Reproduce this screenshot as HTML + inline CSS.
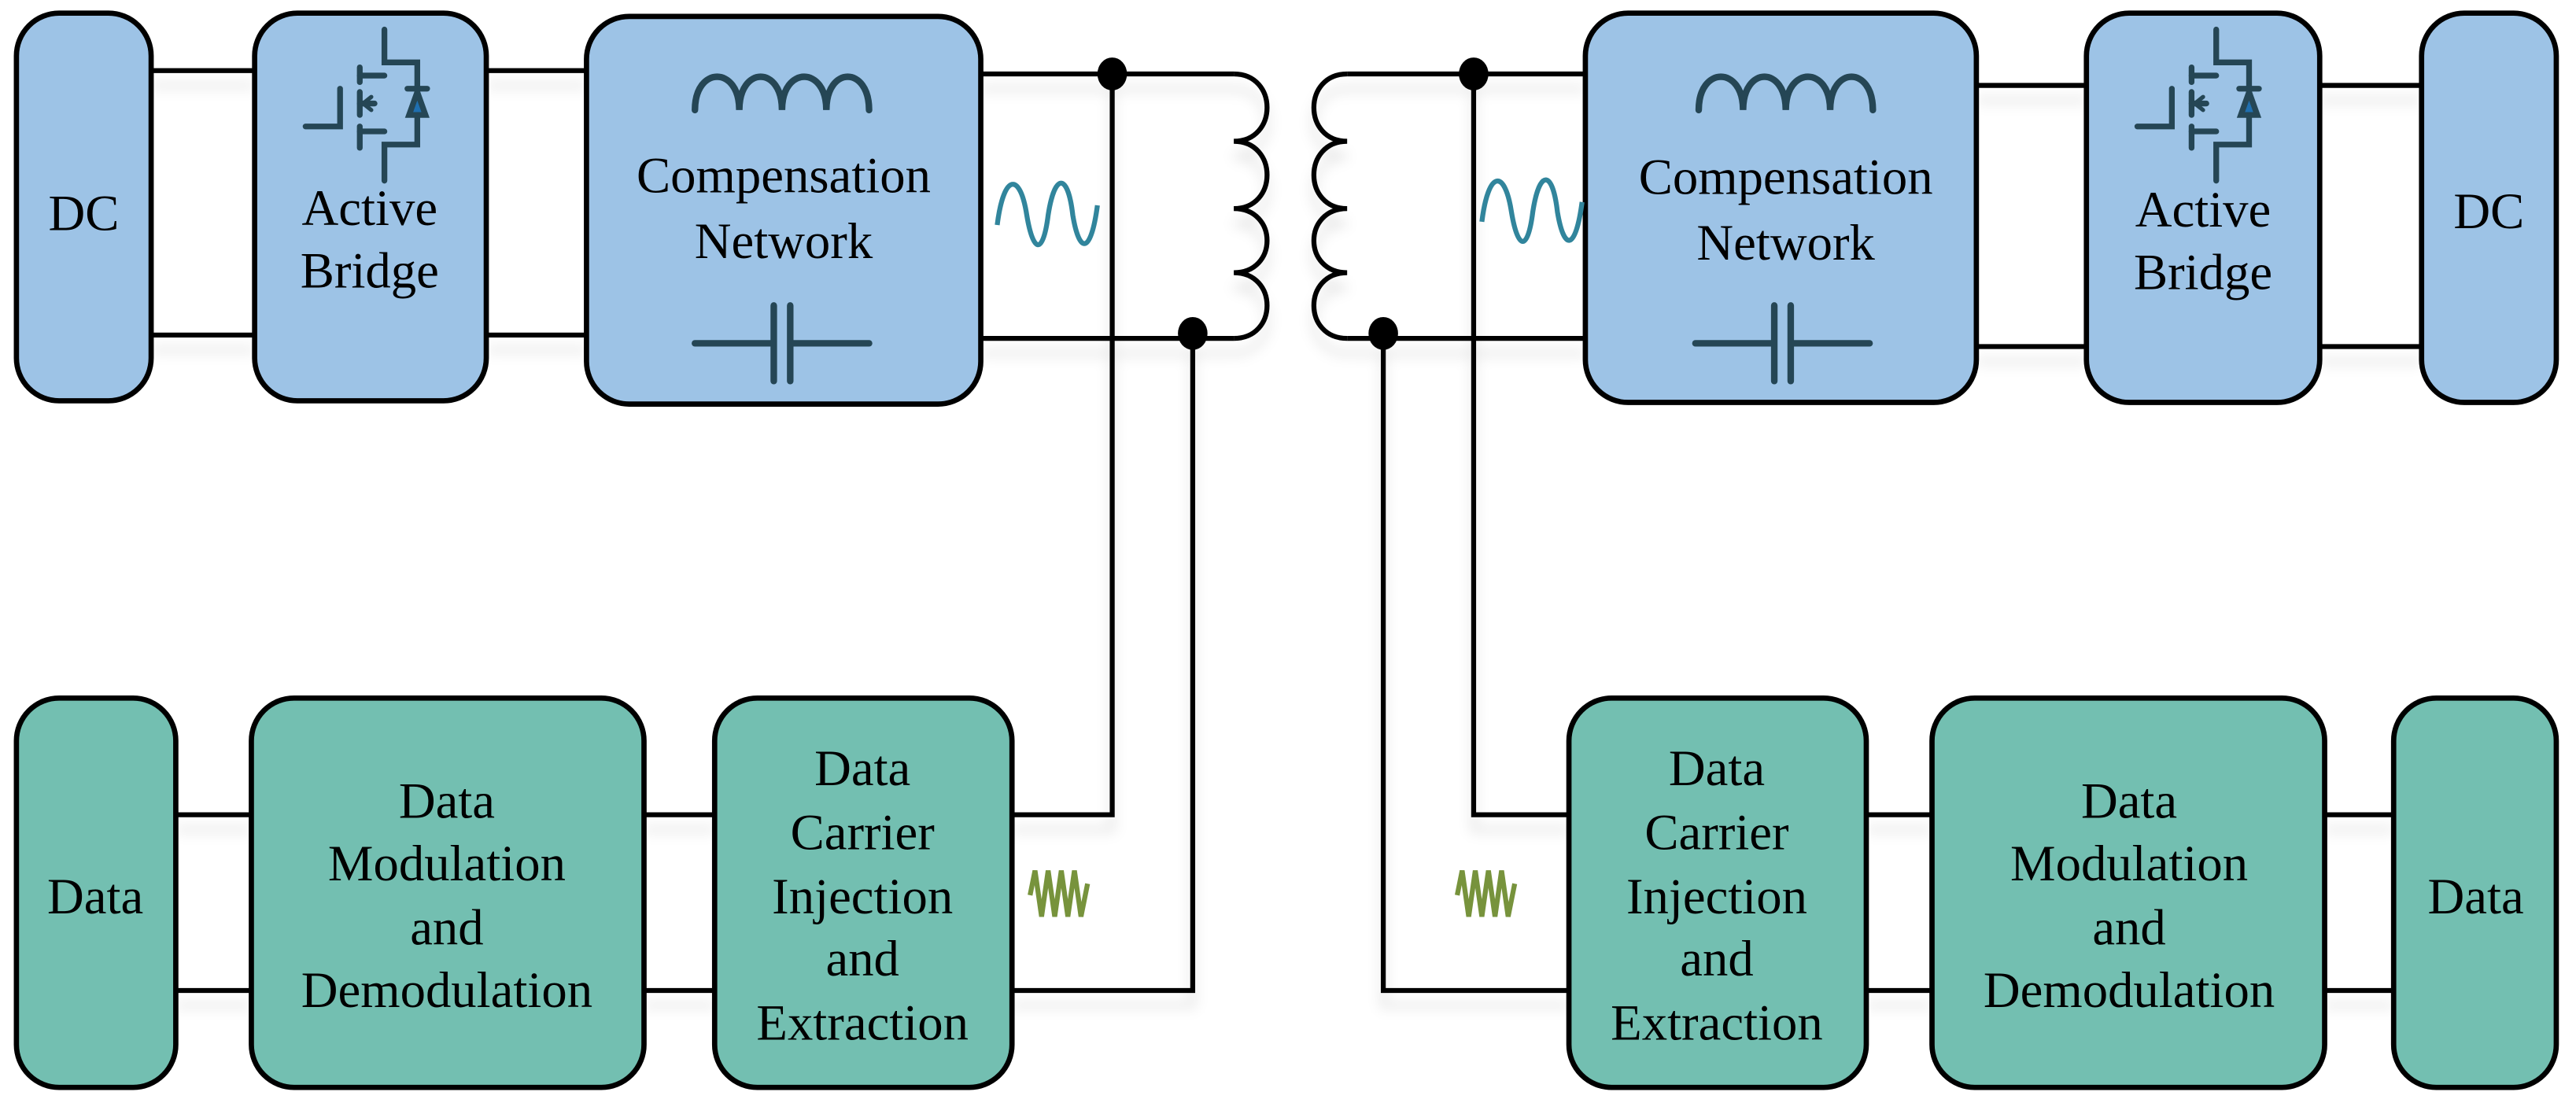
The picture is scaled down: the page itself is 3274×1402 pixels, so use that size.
<!DOCTYPE html>
<html><head><meta charset="utf-8"><style>
html,body{margin:0;padding:0;background:#fff;}
svg{display:block;}
</style></head><body>
<svg width="3274" height="1402" viewBox="0 0 1568 671.5" preserveAspectRatio="none" xmlns="http://www.w3.org/2000/svg">
<defs>
<filter id="sh" x="-10%" y="-10%" width="120%" height="140%">
<feDropShadow dx="0" dy="9" stdDeviation="4" flood-color="#000" flood-opacity="0.12"/>
</filter>
</defs>
<g filter="url(#sh)" fill="none" stroke="#000" stroke-width="3">
<path d="M92 43H155M92 204H155M296 43H357M296 204H357"/>
<path d="M597 45H751M597 206H751"/>
<path d="M751 45 C778 45,778 86,751 86 C778 86,778 127,751 127 C778 127,778 166,751 166 C778 166,778 206,751 206"/>
<path d="M820 45 C793 45,793 86,820 86 C793 86,793 127,820 127 C793 127,793 166,820 166 C793 166,793 206,820 206"/>
<path d="M820 45H965M820 206H965"/>
<path d="M1203 52H1270M1203 211H1270M1412 52H1474M1412 211H1474"/>
<path d="M677 45V496H616M726 203V603H616"/>
<path d="M897 45V496H955M842 203V603H955"/>
<path d="M107 496H153M107 603H153M392 496H435M392 603H435"/>
<path d="M1136 496H1176M1136 603H1176M1415 496H1457M1415 603H1457"/>
</g>
<g fill="#000">
<ellipse cx="677" cy="45" rx="9" ry="10"/><ellipse cx="726" cy="203" rx="9" ry="10"/>
<ellipse cx="897" cy="45" rx="9" ry="10"/><ellipse cx="842" cy="203" rx="9" ry="10"/>
</g>
<g stroke="#000" stroke-width="3.2">
<g fill="#9DC3E6">
<rect x="10" y="8" width="82" height="236" rx="26"/>
<rect x="155" y="8" width="141" height="236" rx="26"/>
<rect x="357" y="10" width="240" height="236" rx="26"/>
<rect x="965" y="8" width="238" height="237" rx="26"/>
<rect x="1270" y="8" width="142" height="237" rx="26"/>
<rect x="1474" y="8" width="82" height="237" rx="26"/>
</g>
<g fill="#73BFB1">
<rect x="10" y="425" width="97" height="237" rx="26"/>
<rect x="153" y="425" width="239" height="237" rx="26"/>
<rect x="435" y="425" width="181" height="237" rx="26"/>
<rect x="955" y="425" width="181" height="237" rx="26"/>
<rect x="1176" y="425" width="239" height="237" rx="26"/>
<rect x="1457" y="425" width="99" height="237" rx="26"/>
</g>
</g>
<g id="mos" fill="none" stroke="#254655" stroke-width="3.5" stroke-linecap="round">
<path d="M234 18V38H254V88H234V110"/>
<path d="M219 41V50M219 56V70M219 77V90"/>
<path d="M219 46H234M219 80H234M219 63H228"/>
<path d="M207 54V77H186"/>
<path d="M248 54H260"/>
<path d="M254 56L249 70H259Z" fill="#1f6fb0"/>
<path d="M226 59L221 63L226 67" stroke-width="2.5"/>
</g>
<use href="#mos" x="1115" y="0"/>
<g fill="none" stroke="#254655" stroke-width="4" stroke-linecap="round">
<path d="M423 67C423 40,450 40,450 67C450 40,476 40,476 67C476 40,503 40,503 67C503 40,529 40,529 67"/>
<path d="M423 209H471M481 209H529M471 186V232M481 186V232"/>
<path d="M1034 67C1034 40,1061 40,1061 67C1061 40,1087 40,1087 67C1087 40,1114 40,1114 67C1114 40,1140 40,1140 67"/>
<path d="M1032 209H1080M1090 209H1138M1080 186V232M1090 186V232"/>
</g>
<g fill="none" stroke="#31859C" stroke-width="3">
<path d="M607 137 C611 105,621 105,625 131 C629 155,635 155,638 131 C642 105,650 105,653 131 C657 155,664 155,668 125"/>
<path d="M902 135 C906 103,916 103,920 129 C924 153,930 153,933 129 C937 103,945 103,948 129 C952 153,959 153,963 123"/>
</g>
<path fill="none" stroke="#77933C" stroke-width="3" d="M627 545 L630 530 L634 558 L638 530 L642 558 L646 530 L650 558 L654 530 L658 558 L662 538"/>
<path fill="none" stroke="#77933C" stroke-width="3" d="M887 545 L890 530 L894 558 L898 530 L902 558 L906 530 L910 558 L914 530 L918 558 L922 538"/>
<g font-family="Liberation Serif, DejaVu Serif, serif" font-size="31" text-anchor="middle" fill="#000">
<text x="51" y="140">DC</text>
<text x="225" y="137">Active</text>
<text x="225" y="175">Bridge</text>
<text x="477" y="117">Compensation</text>
<text x="477" y="157">Network</text>
<text x="1087" y="118">Compensation</text>
<text x="1087" y="158">Network</text>
<text x="1341" y="138">Active</text>
<text x="1341" y="176">Bridge</text>
<text x="1515" y="139">DC</text>
<text x="58" y="556">Data</text>
<text x="272" y="498">Data</text>
<text x="272" y="536">Modulation</text>
<text x="272" y="575">and</text>
<text x="272" y="613">Demodulation</text>
<text x="525" y="478">Data</text>
<text x="525" y="517">Carrier</text>
<text x="525" y="556">Injection</text>
<text x="525" y="594">and</text>
<text x="525" y="633">Extraction</text>
<text x="1045" y="478">Data</text>
<text x="1045" y="517">Carrier</text>
<text x="1045" y="556">Injection</text>
<text x="1045" y="594">and</text>
<text x="1045" y="633">Extraction</text>
<text x="1296" y="498">Data</text>
<text x="1296" y="536">Modulation</text>
<text x="1296" y="575">and</text>
<text x="1296" y="613">Demodulation</text>
<text x="1507" y="556">Data</text>
</g>
</svg>
</body></html>
